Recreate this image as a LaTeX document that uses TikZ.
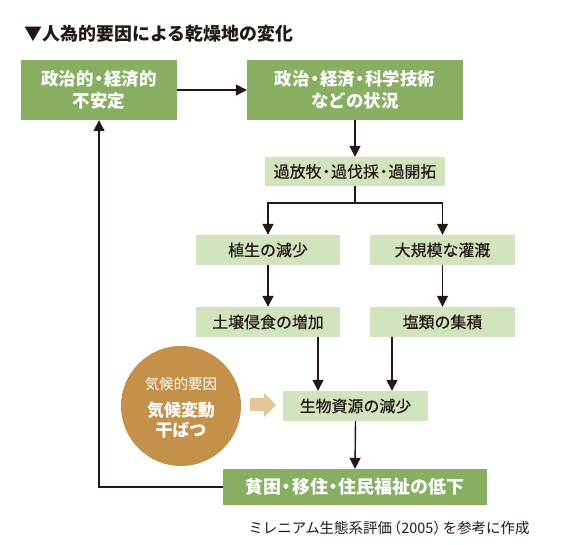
\documentclass[tikz,border=0pt]{standalone}
\usepackage{fontspec}
\setmainfont{Noto Sans CJK JP}
\newfontfamily\medfont{Noto Sans CJK JP}[FakeBold=0.45]
\usetikzlibrary{arrows.meta}
\definecolor{dkgreen}{HTML}{88AE62}
\definecolor{ltgreen}{HTML}{D1E4BD}
\definecolor{circbrown}{HTML}{C4914A}
\definecolor{blockarr}{HTML}{E4C597}
\definecolor{inkc}{HTML}{231815}
\newcommand{\dt}{\kern-0.2em・\kern-0.2em}
\tikzset{
  darkbox/.style={fill=dkgreen, text=white, font=\bfseries\fontsize{17.5}{22}\selectfont, align=center, inner sep=0pt, anchor=center},
  lightbox/.style={fill=ltgreen, text=inkc, font=\medfont\fontsize{16}{20}\selectfont, align=center, inner sep=0pt, anchor=center},
  arr/.style={draw=inkc, line width=1.4bp, -{Triangle[length=11bp,width=11bp]}},
}
\begin{document}
\begin{tikzpicture}[x=1bp,y=-1bp]
\useasboundingbox (0,0) rectangle (565,545);
\fill[white] (0,0) rectangle (565,545);
\node[anchor=west, text=inkc, font=\bfseries\fontsize{18}{20}\selectfont] (title) at (21,34) {▼人為的要因による乾燥地の変化};
\node[darkbox, minimum width=156bp, minimum height=60bp] (b1) at (99,90) {政治的\dt 経済的\\不安定};
\node[darkbox, minimum width=216bp, minimum height=60bp] (b2) at (355,90) {政治\dt 経済\dt 科学技術\\などの状況};
\node[lightbox, minimum width=180bp, minimum height=29bp] (b3) at (355,171.5) {過放牧\dt 過伐採\dt 過開拓};
\node[lightbox, minimum width=144bp, minimum height=30bp] (b4) at (268,250) {植生の減少};
\node[lightbox, minimum width=145bp, minimum height=30bp] (b5) at (442.5,250) {大規模な灌漑};
\node[lightbox, minimum width=144bp, minimum height=30bp] (b6) at (268,322) {土壌侵食の増加};
\node[lightbox, minimum width=145bp, minimum height=30bp] (b7) at (442.5,322) {塩類の集積};
\node[lightbox, minimum width=145bp, minimum height=30bp] (b8) at (355.5,406) {生物資源の減少};
\node[darkbox, minimum width=264bp, minimum height=36bp, font=\bfseries\fontsize{18}{22}\selectfont] (b9) at (355,487) {貧困\dt 移住\dt 住民福祉の低下};
\node[circle, fill=circbrown, minimum size=120bp, inner sep=0pt] (c) at (181,406) {};
\node[text=white, font=\fontsize{14.5}{16}\selectfont] (c1) at (181,384) {気候的要因};
\node[text=white, font=\bfseries\fontsize{17}{21}\selectfont, align=center] (c2) at (181,420) {気候変動\\干ばつ};
\fill[blockarr] (250,398) -- (264,398) -- (264,393) -- (276,405) -- (264,417) -- (264,411) -- (250,411) -- cycle;
\node[anchor=east, text=inkc, font=\fontsize{14.5}{16}\selectfont] (cap) at (533,528) {ミレニアム生態系評価\kern-0.35em（2005）\kern-0.35em を参考に作成};
\coordinate (split) at (355,203);
\draw[arr] (b1.east) -- (b2.west);
\draw[arr] (b2.south) -- (b3.north);
\draw[draw=inkc, line width=1.4bp] (b3.south) -- (split);
\draw[arr] (split) -| (b4.north);
\draw[arr] (split) -| (b5.north);
\draw[arr] (b4.south) -- (b6.north);
\draw[arr] (b5.south) -- (b7.north);
\draw[arr] ([xshift=50bp]b6.south) -- ([xshift=50bp]b6.south |- b8.north);
\draw[arr] ([xshift=-50.5bp]b7.south) -- ([xshift=-50.5bp]b7.south |- b8.north);
\draw[arr] (b8.south) -- (b9.north);
\draw[arr] (b9.west) -| (b1.south);
\end{tikzpicture}
\end{document}
